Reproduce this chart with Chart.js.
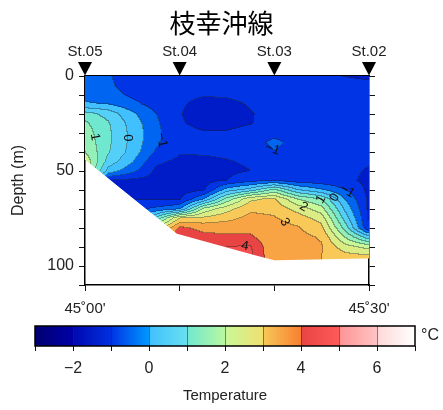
<!DOCTYPE html>
<html>
<head>
<meta charset="utf-8">
<script src="https://cdn.jsdelivr.net/npm/chart.js@4.4.0/dist/chart.umd.min.js"></script>
<style>
  html, body { margin: 0; padding: 0; background: #fff; }
  #wrap { position: relative; width: 443px; height: 410px; overflow: hidden; }
  #section { position: absolute; left: 0; top: 0; }
  #cbar { position: absolute; left: 0; top: 312px; }
</style>
</head>
<body>
<div id="wrap">
  <canvas id="section" width="443" height="320"></canvas>
  <canvas id="cbar" width="443" height="98"></canvas>
</div>
<script>
"use strict";

// stations (longitude in minutes east of 45°00')
const stationNames = ['St.05', 'St.04', 'St.03', 'St.02'];
const stationLon = [0, 10, 20, 30];
const lonTickLabels = ["45˚00'", '', '', "45˚30'"];
const depthTicks = [0, 10, 20, 30, 40, 50, 60, 70, 80, 90, 100, 110];

// sea floor along the section
const bottomLon = [0, 9.7, 17.7, 20, 30];
const bottomDepth = [44, 83, 94, 97, 96];

// gridded temperature (°C): one profile every 2.5', depth every 5 m
const gridLon = [0, 2.5, 5, 7.5, 10, 12.5, 15, 17.5, 20, 22.5, 25, 27.5, 30];
const gridDepth = [0, 5, 10, 15, 20, 25, 30, 35, 40, 45, 50, 55, 60, 65, 70, 75, 80, 85, 90, 95, 100];
const temp00  = [-0.7, -0.65, -0.6, -0.45, 0.7, 1.1, 1.25, 1.35, 1.5, 1.9, 1.9, 1.9, 1.9, 1.9, 1.9, 1.9, 1.9, 1.9, 1.9, 1.9, 1.9];
const temp025 = [-0.95, -0.9, -0.8, -0.5, 0.3, 0.55, 0.6, 0.6, 0.55, 0.3, -0.2, -1.5, -1.5, -1.5, -1.5, -1.5, -1.5, -1.5, -1.5, -1.5, -1.5];
const temp05  = [-1.3, -1.25, -1.1, -0.85, -0.4, -0.2, -0.15, -0.15, -0.2, -0.45, -0.85, -1.6, -1.62, -1.5, -1.2, -1.0, -1.0, -1.0, -1.0, -1.0, -1.0];
const temp075 = [-1.3, -1.3, -1.28, -1.2, -0.98, -0.9, -0.85, -0.9, -1.05, -1.4, -1.6, -1.65, -1.65, -1.55, -0.9, 0.6, 2.0, 3.0, 3.0, 3.0, 3.0];
const temp10  = [-1.3, -1.35, -1.4, -1.45, -1.48, -1.46, -1.4, -1.38, -1.45, -1.6, -1.7, -1.72, -1.7, -1.55, -0.6, 2.5, 3.6, 3.95, 4.0, 4.0, 4.0];
const temp125 = [-1.3, -1.38, -1.47, -1.62, -1.66, -1.6, -1.47, -1.4, -1.45, -1.58, -1.65, -1.68, -1.6, -0.5, 1.6, 2.6, 3.35, 3.65, 3.9, 3.9, 3.9];
const temp15  = [-1.3, -1.35, -1.45, -1.6, -1.63, -1.57, -1.48, -1.4, -1.42, -1.52, -1.6, -1.5, -0.3, 1.2, 2.3, 2.85, 3.3, 3.6, 4.0, 4.1, 4.1];
const temp175 = [-1.3, -1.33, -1.38, -1.47, -1.52, -1.51, -1.42, -1.4, -1.4, -1.45, -1.5, -1.2, 0.2, 2.4, 2.9, 3.15, 3.3, 3.6, 4.05, 4.15, 4.15];
const temp20  = [-1.3, -1.3, -1.3, -1.35, -1.4, -1.42, -1.3, -0.8, -1.05, -1.3, -1.4, -1.1, 1.1, 2.6, 2.85, 3.05, 3.2, 3.1, 3.05, 3.05, 3.05];
const temp225 = [-1.3, -1.3, -1.3, -1.3, -1.32, -1.33, -1.33, -1.3, -1.3, -1.33, -1.35, -1.3, 0.0, 1.5, 2.3, 2.75, 3.05, 3.15, 3.15, 3.1, 3.1];
const temp25  = [-1.42, -1.32, -1.3, -1.3, -1.3, -1.3, -1.3, -1.3, -1.3, -1.35, -1.4, -1.35, -0.45, 1.0, 1.7, 2.3, 2.65, 2.95, 3.05, 3.0, 3.0];
const temp275 = [-1.52, -1.33, -1.3, -1.3, -1.3, -1.3, -1.3, -1.3, -1.3, -1.35, -1.38, -1.4, -1.0, -0.5, -0.1, 0.3, 0.8, 1.5, 2.2, 2.7, 2.75];
const temp30  = [-1.6, -1.38, -1.32, -1.3, -1.3, -1.3, -1.3, -1.3, -1.3, -1.45, -1.55, -1.6, -1.62, -1.6, -1.6, -1.55, -1.5, 0.2, 1.8, 2.6, 2.7];
const profiles = [temp00, temp025, temp05, temp075, temp10, temp125, temp15, temp175, temp20, temp225, temp25, temp275, temp30];

// contour labels: value, approximate lon / depth, rotation (deg)
const labelValues = [1, 0, -1, -1, -1, 0, 1, 2, 3, 4];
const labelLon    = [1.05, 4.5, 8.1, 19.8, 27.9, 26.6, 24.6, 23.0, 21.4, 16.9];
const labelDepth  = [31, 32.6, 33.7, 38.5, 59, 63.5, 66, 70, 74.2, 88.5];
const labelAngle  = [80, 90, 80, 20, 30, -60, -60, 30, 60, 10];

// colour scale
const cbarMin = -3, cbarMax = 7;
const cbarTicks = [-3, -2, -1, 0, 1, 2, 3, 4, 5, 6, 7];
const cmapStart = ['#000070', '#0008b0', '#0034e4', '#40c0ff', '#70e8d0', '#c8f898', '#f8c858', '#e84444', '#ff9494', '#ffd8d8'];
const cmapEnd   = ['#0000a8', '#0030e0', '#0098ff', '#68e0f0', '#b8f8a0', '#f0e070', '#f88030', '#ff5a5a', '#ffc4c4', '#ffffff'];
const contourStep = 0.5;

const FONT = "'Liberation Sans', Arial, sans-serif";
Chart.defaults.font.family = FONT;
Chart.defaults.color = '#222';

function hexRgb(h) {
  return [parseInt(h.slice(1, 3), 16), parseInt(h.slice(3, 5), 16), parseInt(h.slice(5, 7), 16)];
}
const startRgb = cmapStart.map(hexRgb);
const endRgb = cmapEnd.map(hexRgb);

function cmap(v) {
  let k = Math.floor(v - cbarMin);
  k = Math.max(0, Math.min(cmapStart.length - 1, k));
  const t = Math.max(0, Math.min(1, v - cbarMin - k));
  const a = startRgb[k], b = endRgb[k];
  return [a[0] + (b[0] - a[0]) * t, a[1] + (b[1] - a[1]) * t, a[2] + (b[2] - a[2]) * t];
}

function interp1(xs, ys, v) {
  if (v <= xs[0]) return ys[0];
  for (let i = 1; i < xs.length; i++) {
    if (v <= xs[i]) {
      const t = (v - xs[i - 1]) / (xs[i] - xs[i - 1]);
      return ys[i - 1] + t * (ys[i] - ys[i - 1]);
    }
  }
  return ys[ys.length - 1];
}

function locate(xs, v) {
  let i = 0;
  while (i < xs.length - 2 && v > xs[i + 1]) i++;
  const t = Math.max(0, Math.min(1, (v - xs[i]) / (xs[i + 1] - xs[i])));
  return [i, t];
}

function bottomAt(lon) { return interp1(bottomLon, bottomDepth, lon); }

function tempAt(lon, dep) {
  const [i, u] = locate(gridLon, lon);
  const [j, v] = locate(gridDepth, dep);
  const a = profiles[i], b = profiles[i + 1];
  return (1 - u) * ((1 - v) * a[j] + v * a[j + 1]) + u * ((1 - v) * b[j] + v * b[j + 1]);
}

// filled contours, drawn pixel by pixel through the scales
const fieldPlugin = {
  id: 'field',
  beforeDatasetsDraw(chart) {
    const { ctx, chartArea: a, scales: { x, y } } = chart;
    const x0 = Math.round(a.left), y0 = Math.round(a.top);
    const w = Math.round(a.right) - x0, h = Math.round(a.bottom) - y0;
    const band = new Int16Array(w * h).fill(-999);
    const cover = new Float32Array(w * h);
    for (let j = 0; j < h; j++) {
      const dTop = y.getValueForPixel(y0 + j);
      const dBot = y.getValueForPixel(y0 + j + 1);
      const dMid = (dTop + dBot) / 2;
      for (let i = 0; i < w; i++) {
        const lon = x.getValueForPixel(x0 + i + 0.5);
        const bd = bottomAt(lon);
        if (dTop >= bd) continue;
        const k = j * w + i;
        cover[k] = Math.min(1, (bd - dTop) / (dBot - dTop));
        band[k] = Math.floor(tempAt(lon, Math.min(dMid, bd)) / contourStep);
      }
    }
    const off = document.createElement('canvas');
    off.width = w; off.height = h;
    const octx = off.getContext('2d');
    const img = octx.createImageData(w, h);
    const colours = {};
    for (let j = 0; j < h; j++) {
      for (let i = 0; i < w; i++) {
        const k = j * w + i;
        const b = band[k];
        if (b === -999) continue;
        if (!(b in colours)) colours[b] = cmap((b + 1) * contourStep);
        let [r, g, bl] = colours[b];
        const edge = (i < w - 1 && band[k + 1] !== -999 && band[k + 1] !== b) ||
                     (j < h - 1 && band[k + w] !== -999 && band[k + w] !== b);
        if (edge) {
          r = r * 0.62 + 30 * 0.38; g = g * 0.62 + 30 * 0.38; bl = bl * 0.62 + 30 * 0.38;
        }
        img.data[k * 4] = r; img.data[k * 4 + 1] = g; img.data[k * 4 + 2] = bl;
        img.data[k * 4 + 3] = Math.round(255 * cover[k]);
      }
    }
    octx.putImageData(img, 0, 0);
    ctx.drawImage(off, x0, y0);
  },
  afterDraw(chart) {
    const { ctx, chartArea: a, scales: { x, y } } = chart;
    // contour labels, placed on the nearest matching isoline
    ctx.save();
    ctx.font = '13px ' + FONT;
    ctx.fillStyle = '#111';
    ctx.textAlign = 'center';
    ctx.textBaseline = 'middle';
    labelValues.forEach((val, n) => {
      const px = x.getPixelForValue(labelLon[n]);
      const py = y.getPixelForValue(labelDepth[n]);
      let best = null, bestScore = Infinity;
      for (let dy = -10; dy <= 10; dy++) {
        for (let dx = -10; dx <= 10; dx++) {
          const lon = x.getValueForPixel(px + dx), dep = y.getValueForPixel(py + dy);
          if (lon < 0.5 || lon > 29.5 || dep < 1 || dep > bottomAt(lon) - 2) continue;
          const s = Math.abs(tempAt(lon, dep) - val) + 0.004 * Math.hypot(dx, dy);
          if (s < bestScore) { bestScore = s; best = [px + dx, py + dy]; }
        }
      }
      if (!best) return;
      ctx.save();
      ctx.translate(best[0], best[1]);
      ctx.rotate(labelAngle[n] * Math.PI / 180);
      ctx.fillText(val < 0 ? '\u2212' + Math.abs(val) : String(val), 0, 0);
      ctx.restore();
    });
    // station markers
    ctx.fillStyle = '#000';
    stationLon.forEach((lon) => {
      const px = x.getPixelForValue(lon);
      ctx.beginPath();
      ctx.moveTo(px - 7, a.top - 14);
      ctx.lineTo(px + 7, a.top - 14);
      ctx.lineTo(px, a.top - 0.5);
      ctx.closePath();
      ctx.fill();
    });
    ctx.restore();
  }
};

const axisBorder = { display: true, color: '#000', width: 1.5 };
const tickGrid = { drawOnChartArea: false, drawTicks: true, tickLength: 6, color: '#111', lineWidth: 1 };

new Chart(document.getElementById('section'), {
  type: 'scatter',
  data: { datasets: [] },
  plugins: [fieldPlugin],
  options: {
    responsive: false,
    animation: false,
    events: [],
    layout: { padding: 0 },
    plugins: {
      legend: { display: false },
      tooltip: { enabled: false },
      title: {
        display: true,
        text: '枝幸沖線',
        color: '#000',
        font: { family: "'Noto Sans CJK JP', sans-serif", size: 26, weight: 'normal' },
        padding: { top: 8, bottom: 2 }
      }
    },
    scales: {
      x: {
        type: 'linear', position: 'bottom', min: 0, max: 30,
        afterBuildTicks: (s) => { s.ticks = stationLon.map((v) => ({ value: v })); },
        afterFit: (s) => { s.height = 35; },
        grid: tickGrid,
        border: axisBorder,
        ticks: {
          autoSkip: false, maxRotation: 0, padding: 9,
          font: { size: 15 },
          callback: (v, i) => lonTickLabels[i]
        }
      },
      x2: {
        type: 'linear', position: 'top', min: 0, max: 30,
        afterBuildTicks: (s) => { s.ticks = stationLon.map((v) => ({ value: v })); },
        afterFit: (s) => { s.height = 76 - (26 * 1.2 + 10); },
        grid: { display: false, drawTicks: false },
        border: axisBorder,
        ticks: {
          autoSkip: false, maxRotation: 0, padding: 15,
          font: { size: 15 },
          callback: (v, i) => stationNames[i]
        }
      },
      y: {
        type: 'linear', position: 'left', reverse: true, min: 0, max: 110,
        afterBuildTicks: (s) => { s.ticks = depthTicks.map((v) => ({ value: v })); },
        afterFit: (s) => { s.width = 85; },
        grid: tickGrid,
        border: axisBorder,
        ticks: {
          autoSkip: false, padding: 5,
          font: { size: 16 },
          callback: (v) => (v % 50 === 0 && v <= 100 ? String(v) : '')
        },
        title: {
          display: true, text: 'Depth (m)', color: '#222',
          font: { size: 16 }, padding: { top: 9, bottom: 0 }
        }
      },
      y2: {
        type: 'linear', position: 'right', reverse: true, min: 0, max: 110,
        afterBuildTicks: (s) => { s.ticks = depthTicks.map((v) => ({ value: v })); },
        afterFit: (s) => { s.width = 443 - 369; },
        grid: tickGrid,
        border: axisBorder,
        ticks: { autoSkip: false, callback: () => '' }
      }
    }
  }
});

// colour bar
const cbarPlugin = {
  id: 'cbarFill',
  beforeDatasetsDraw(chart) {
    const { ctx, chartArea: a, scales: { x } } = chart;
    ctx.save();
    for (let k = 0; k < cmapStart.length; k++) {
      const xa = x.getPixelForValue(cbarMin + k), xb = x.getPixelForValue(cbarMin + k + 1);
      const g = ctx.createLinearGradient(xa, 0, xb, 0);
      g.addColorStop(0, cmapStart[k]);
      g.addColorStop(1, cmapEnd[k]);
      ctx.fillStyle = g;
      ctx.fillRect(xa, a.top, xb - xa + 0.5, a.bottom - a.top);
    }
    ctx.strokeStyle = 'rgba(40,40,40,0.55)';
    ctx.lineWidth = 1;
    cbarTicks.slice(1, -1).forEach((v) => {
      const px = Math.round(x.getPixelForValue(v)) + 0.5;
      ctx.beginPath(); ctx.moveTo(px, a.top); ctx.lineTo(px, a.bottom); ctx.stroke();
    });
    ctx.strokeStyle = '#000';
    ctx.lineWidth = 1.5;
    ctx.strokeRect(a.left, a.top, a.right - a.left, a.bottom - a.top);
    ctx.fillStyle = '#222';
    ctx.font = '16px ' + FONT;
    ctx.textAlign = 'left';
    ctx.textBaseline = 'middle';
    ctx.fillText('°C', a.right + 6, (a.top + a.bottom) / 2);
    ctx.restore();
  }
};

new Chart(document.getElementById('cbar'), {
  type: 'scatter',
  data: { datasets: [] },
  plugins: [cbarPlugin],
  options: {
    responsive: false,
    animation: false,
    events: [],
    layout: { padding: { left: 35, right: 28, top: 14, bottom: 0 } },
    plugins: { legend: { display: false }, tooltip: { enabled: false } },
    scales: {
      x: {
        type: 'linear', min: cbarMin, max: cbarMax,
        afterBuildTicks: (s) => { s.ticks = cbarTicks.map((v) => ({ value: v })); },
        afterFit: (s) => { s.height = 64; },
        grid: { drawOnChartArea: false, drawTicks: true, tickLength: 5, color: '#111' },
        border: { display: false },
        ticks: {
          autoSkip: false, maxRotation: 0, padding: 8,
          font: { size: 16 },
          callback: (v) => (v % 2 === 0 ? (v < 0 ? '\u2212' + Math.abs(v) : String(v)) : '')
        },
        title: {
          display: true, text: 'Temperature', color: '#222',
          font: { size: 15 }, padding: { top: 0, bottom: 5 }
        }
      },
      y: { display: false, min: 0, max: 1 }
    }
  }
});
</script>
</body>
</html>
